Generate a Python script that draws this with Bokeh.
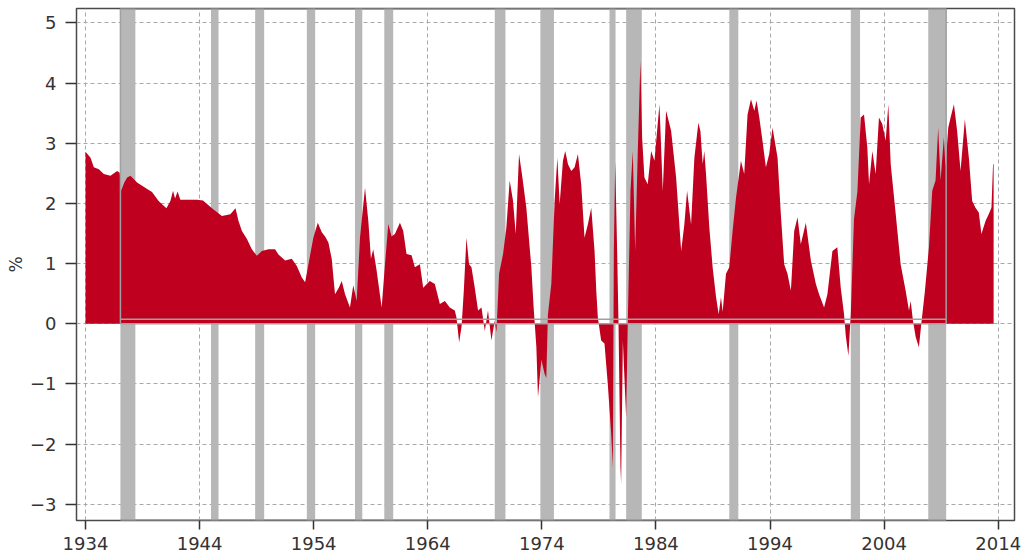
from bokeh.plotting import figure
from bokeh.models import Range1d, FixedTicker, ColumnDataSource
from bokeh.embed import file_html
from bokeh.resources import INLINE

# Term spread (%)
years = [1934.0, 1934.44, 1934.73, 1935.17, 1935.6, 1936.19, 1936.77, 1937.0, 1937.12, 1937.4,
         1937.65, 1937.94, 1938.52, 1939.4, 1939.83, 1940.41, 1941.09, 1941.44, 1941.67, 1941.85,
         1942.07, 1942.31, 1943.77, 1944.3, 1944.65, 1945.22, 1945.96, 1946.69, 1947.15, 1947.41,
         1947.71, 1948.15, 1948.58, 1949.02, 1949.46, 1950.04, 1950.62, 1950.91, 1951.5, 1952.08,
         1952.52, 1952.96, 1953.25, 1953.54, 1953.97, 1954.36, 1954.71, 1955.0, 1955.29, 1955.58,
         1955.87, 1956.2, 1956.46, 1956.75, 1957.18, 1957.47, 1957.77, 1958.06, 1958.5, 1958.79,
         1959.02, 1959.22, 1959.52, 1959.96, 1960.25, 1960.54, 1960.83, 1961.12, 1961.56, 1961.85,
         1962.14, 1962.58, 1962.87, 1963.31, 1963.6, 1964.18, 1964.62, 1965.06, 1965.5, 1965.93,
         1966.37, 1966.52, 1966.75, 1966.96, 1967.16, 1967.39, 1967.62, 1967.83, 1968.12, 1968.41,
         1968.71, 1969.0, 1969.28, 1969.58, 1969.87, 1970.02, 1970.25, 1970.6, 1970.89, 1971.18,
         1971.47, 1971.71, 1972.0, 1972.29, 1972.64, 1973.08, 1973.28, 1973.52, 1973.66, 1973.96,
         1974.24, 1974.39, 1974.53, 1974.83, 1975.12, 1975.36, 1975.56, 1975.85, 1976.05, 1976.29,
         1976.58, 1976.87, 1977.16, 1977.45, 1977.74, 1978.03, 1978.33, 1978.62, 1978.77, 1978.91,
         1979.2, 1979.49, 1979.78, 1980.08, 1980.22, 1980.31, 1980.43, 1980.6, 1980.72, 1980.89,
         1980.95, 1981.1, 1981.39, 1981.53, 1981.77, 1981.97, 1982.18, 1982.41, 1982.64, 1982.79,
         1982.99, 1983.28, 1983.58, 1983.87, 1984.31, 1984.6, 1984.89, 1985.33, 1985.77, 1986.21,
         1986.49, 1986.73, 1987.08, 1987.37, 1987.72, 1987.9, 1988.1, 1988.24, 1988.39, 1988.68,
         1988.97, 1989.27, 1989.5, 1989.7, 1989.85, 1990.14, 1990.43, 1990.72, 1991.02, 1991.45,
         1991.74, 1992.03, 1992.33, 1992.62, 1992.82, 1993.06, 1993.34, 1993.64, 1993.93, 1994.22,
         1994.66, 1994.95, 1995.24, 1995.53, 1995.83, 1996.12, 1996.41, 1996.7, 1997.14, 1997.58,
         1998.02, 1998.3, 1998.74, 1999.03, 1999.47, 1999.9, 2000.2, 2000.49, 2000.64, 2000.87,
         2001.08, 2001.36, 2001.66, 2001.95, 2002.24, 2002.53, 2002.68, 2002.97, 2003.26, 2003.55,
         2003.84, 2004.14, 2004.37, 2004.58, 2005.02, 2005.45, 2005.89, 2006.18, 2006.33, 2006.53,
         2006.77, 2007.05, 2007.29, 2007.58, 2007.93, 2008.22, 2008.51, 2008.74, 2008.95, 2009.24,
         2009.38, 2009.62, 2009.83, 2010.12, 2010.4, 2010.7, 2011.08, 2011.43, 2011.72, 2012.01,
         2012.3, 2012.53, 2012.89, 2013.17, 2013.41, 2013.55, 2013.6]
spread = [2.86, 2.76, 2.60, 2.57, 2.49, 2.46, 2.54, 2.51, 2.21, 2.35,
          2.43, 2.46, 2.35, 2.24, 2.19, 2.04, 1.92, 2.04, 2.21, 2.08,
          2.20, 2.06, 2.06, 2.05, 1.99, 1.90, 1.79, 1.82, 1.92, 1.71,
          1.54, 1.41, 1.24, 1.13, 1.21, 1.24, 1.24, 1.15, 1.05, 1.08,
          0.96, 0.77, 0.69, 0.99, 1.43, 1.68, 1.52, 1.45, 1.35, 1.08,
          0.49, 0.60, 0.71, 0.49, 0.27, 0.64, 0.38, 1.43, 2.26, 1.71,
          1.08, 1.24, 0.88, 0.27, 0.99, 1.66, 1.45, 1.49, 1.68, 1.54,
          1.16, 1.14, 0.94, 0.99, 0.60, 0.71, 0.66, 0.33, 0.38, 0.27,
          0.22, 0.10, -0.31, -0.05, 0.55, 1.43, 0.99, 0.94, 0.60, 0.22,
          0.27, -0.12, 0.22, -0.28, 0.05, -0.14, 0.83, 1.16, 1.60, 2.38,
          2.05, 1.49, 2.82, 2.44, 1.93, 0.94, 0.27, -0.39, -1.22, -0.60,
          -0.83, -0.90, 0.15, 0.66, 2.04, 2.76, 1.99, 2.71, 2.87, 2.65,
          2.54, 2.60, 2.82, 2.32, 1.43, 1.65, 1.93, 1.21, 0.55, 0.10,
          -0.28, -0.33, -1.00, -1.83, -2.39, 1.21, 2.71, 1.21, 0.00, -2.39,
          -2.66, -0.28, -1.56, 0.00, 2.21, 2.87, 1.21, 2.87, 4.37, 3.09,
          2.43, 2.32, 2.87, 2.71, 3.65, 2.21, 3.54, 3.21, 2.43, 1.21,
          1.65, 2.21, 1.65, 2.76, 3.34, 3.20, 2.65, 2.87, 2.49, 1.60,
          0.94, 0.44, 0.16, 0.44, 0.20, 0.83, 0.94, 1.54, 2.10, 2.71,
          2.49, 3.48, 3.73, 3.54, 3.71, 3.43, 3.04, 2.60, 2.82, 3.26,
          2.76, 1.82, 0.99, 0.83, 0.55, 1.54, 1.77, 1.32, 1.68, 1.05,
          0.66, 0.49, 0.27, 0.49, 1.21, 1.27, 0.60, 0.16, -0.20, -0.53,
          0.16, 1.74, 2.20, 3.43, 3.48, 2.93, 2.32, 2.87, 2.49, 3.43,
          3.32, 3.04, 3.65, 2.65, 1.82, 0.99, 0.55, 0.22, 0.38, 0.05,
          -0.22, -0.39, 0.05, 0.55, 1.27, 2.21, 2.38, 3.26, 2.38, 3.10,
          2.60, 3.26, 3.43, 3.65, 3.21, 2.54, 3.40, 2.76, 2.04, 1.93,
          1.85, 1.49, 1.71, 1.82, 1.93, 2.65, 2.65]

# Recession periods (start, end)
rec_start = [1937.06, 1945.0, 1948.87, 1953.40, 1957.62, 1960.19, 1969.87, 1973.87,
             1979.93, 1981.39, 1990.43, 2001.08, 2007.87]
rec_end = [1938.37, 1945.66, 1949.66, 1954.13, 1958.26, 1960.97, 1970.81, 1975.06,
           1980.46, 1982.76, 1991.22, 2001.89, 2009.44]

x_ticks = [1934, 1944, 1954, 1964, 1974, 1984, 1994, 2004, 2014]
y_ticks = [-3, -2, -1, 0, 1, 2, 3, 4, 5]

X0, X1 = 1933.21, 2015.43
Y0, Y1 = -3.27, 5.24

p = figure(width=1027, height=558, output_backend="svg", toolbar_location=None,
           x_range=Range1d(X0, X1), y_range=Range1d(Y0, Y1),
           min_border_left=76, min_border_right=13, min_border_top=8, min_border_bottom=38)
p.background_fill_color = "white"
p.border_fill_color = "white"
p.outline_line_color = "#4a4a4a"
p.outline_line_width = 1.5

# recession shading
p.quad(left=rec_start, right=rec_end, bottom=Y0, top=Y1,
       fill_color="#b7b7b7", line_color=None)

# spread area
src = ColumnDataSource(dict(x=years, y=spread, z=[0.0] * len(years)))
p.varea(x="x", y1="z", y2="y", source=src, fill_color="#c0001f")

# grey outline of the shaded block
gx0, gx1 = rec_start[0], rec_end[-1]
p.segment(x0=[gx0, gx0, gx0, gx1], y0=[0.075, 0.0, 0.0, 0.0],
          x1=[gx1, gx1, gx0, gx1], y1=[0.075, 0.0, Y1, Y1],
          line_color="#a0a0a0", line_width=1.5)
p.segment(x0=[gx0, gx0], y0=[Y1, Y0], x1=[gx1, gx1], y1=[Y1, Y0],
          line_color="#a0a0a0", line_width=3)

p.xaxis.ticker = FixedTicker(ticks=x_ticks)
p.yaxis.ticker = FixedTicker(ticks=y_ticks)
for ax in (p.xaxis[0], p.yaxis[0]):
    ax.axis_line_color = None
    ax.major_tick_line_color = "#333333"
    ax.major_tick_line_width = 1.5
    ax.minor_tick_line_color = None
    ax.major_tick_in = 0
    ax.major_label_text_font = "DejaVu Sans"
    ax.major_label_text_font_size = "18px"
    ax.major_label_text_color = "#333333"
p.xaxis.major_tick_out = 9
p.yaxis.major_tick_out = 11
p.xaxis.major_label_standoff = 7
p.yaxis.major_label_standoff = 9
p.yaxis.axis_label = "%"
p.yaxis.axis_label_text_font = "DejaVu Sans"
p.yaxis.axis_label_text_font_style = "normal"
p.yaxis.axis_label_text_font_size = "17px"
p.yaxis.axis_label_text_color = "#333333"
p.yaxis.axis_label_standoff = 1

p.grid.grid_line_color = "#a8a8a8"
p.grid.grid_line_dash = "4 3"
p.grid.grid_line_width = 1
p.xgrid.ticker = FixedTicker(ticks=x_ticks)
p.ygrid.ticker = FixedTicker(ticks=y_ticks)

open("out.html", "w").write(file_html(p, INLINE))
